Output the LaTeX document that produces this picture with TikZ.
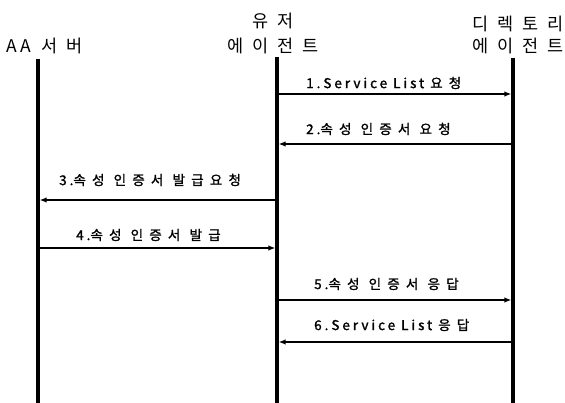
\documentclass[tikz,border=0pt]{standalone}
\usepackage{fontspec}
\setmainfont{Noto Sans CJK KR}
\newfontfamily\titlefont[LetterSpace=52]{Noto Sans CJK KR}
\newfontfamily\latf[LetterSpace=22,FakeBold=1.5]{Noto Sans CJK KR}
\newfontfamily\hanf[LetterSpace=46,FakeBold=1.5]{Noto Sans CJK KR}
\newcommand\lt[1]{{\latf #1}}
\newcommand\hg[1]{{\hanf #1}}
\usetikzlibrary{arrows.meta}
\begin{document}
\begin{tikzpicture}[x=1pt,y=-1pt,
  life/.style={line width=3.5pt},
  msg/.style={line width=1.5pt,shorten >=1.6pt,-{Latex[length=7pt,width=5.5pt]}},
  ttl/.style={font=\titlefont\fontsize{17.5}{20}\selectfont,inner sep=0pt,anchor=west},
  lab/.style={font=\fontsize{13.5}{15}\selectfont,inner sep=0pt,anchor=west}]
\useasboundingbox (0,0) rectangle (565,403);
% lifelines
\coordinate (aT) at (38,59);  \coordinate (aB) at (38,403);
\coordinate (uT) at (277,57); \coordinate (uB) at (277,403);
\coordinate (dT) at (513,58); \coordinate (dB) at (513,403);
\draw[life] (aT) -- (aB);
\draw[life] (uT) -- (uB);
\draw[life] (dT) -- (dB);
% titles
\node[ttl] (ta) at (6,45.5) {A\hspace{4pt}A\hspace{10pt}서버};
\node[ttl] (tu1) at (252,21) {유저};
\node[ttl] (tu2) at (227,46) {에이전트};
\node[ttl] (td1) at (472,24) {디렉토리};
\node[ttl] (td2) at (472,46) {에이전트};
% message anchors
\coordinate (u1) at (277,94);  \coordinate (d1) at (513,94);
\coordinate (d2) at (513,144); \coordinate (u2) at (277,144);
\coordinate (u3) at (277,200); \coordinate (a3) at (38,200);
\coordinate (a4) at (38,248);  \coordinate (u4) at (277,248);
\coordinate (u5) at (277,300); \coordinate (d5) at (513,300);
\coordinate (d6) at (513,342); \coordinate (u6) at (277,342);
\draw[msg] (u1) -- (d1);
\draw[msg] (d2) -- (u2);
\draw[msg] (u3) -- (a3);
\draw[msg] (a4) -- (u4);
\draw[msg] (u5) -- (d5);
\draw[msg] (d6) -- (u6);
% labels
\node[lab] (l1) at (306,83)  {\lt{1.Service List }\hg{요청}};
\node[lab] (l2) at (306,129) {\lt{2.}\hg{속성 인증서 요청}};
\node[lab] (l3) at (59,180)  {\lt{3.}\hg{속성 인증서 발급요청}};
\node[lab] (l4) at (76,235)  {\lt{4.}\hg{속성 인증서 발급}};
\node[lab] (l5) at (314,284) {\lt{5.}\hg{속성 인증서 응답}};
\node[lab] (l6) at (314,325) {\lt{6.Service List }\hg{응답}};
\end{tikzpicture}
\end{document}
